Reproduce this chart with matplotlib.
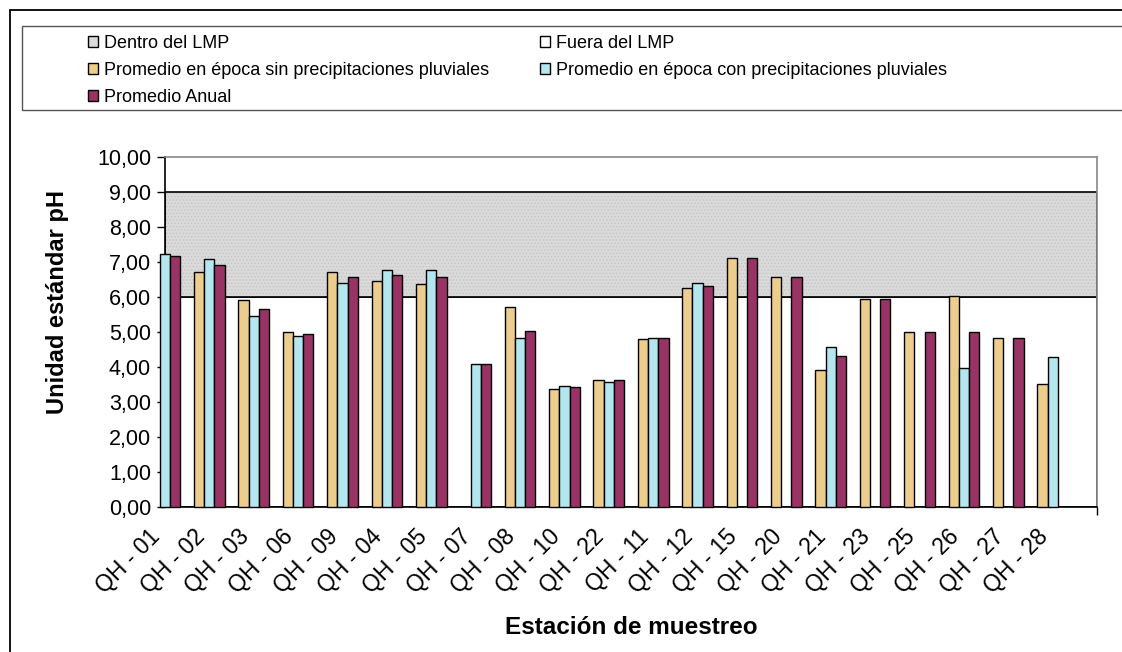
import numpy as np
import matplotlib.pyplot as plt
from matplotlib.patches import Patch, Rectangle

plt.rcParams['font.family'] = ['Liberation Sans', 'DejaVu Sans']
plt.rcParams['hatch.linewidth'] = 0.6

# estaciones de muestreo y promedios de pH
estaciones = ['QH - 01', 'QH - 02', 'QH - 03', 'QH - 06', 'QH - 09', 'QH - 04', 'QH - 05',
              'QH - 07', 'QH - 08', 'QH - 10', 'QH - 22', 'QH - 11', 'QH - 12', 'QH - 15',
              'QH - 20', 'QH - 21', 'QH - 23', 'QH - 25', 'QH - 26', 'QH - 27', 'QH - 28']
sin_lluvia = [np.nan, 6.71, 5.90, 4.98, 6.71, 6.46, 6.35, np.nan, 5.71, 3.36, 3.62, 4.78,
              6.26, 7.11, 6.56, 3.92, 5.94, 4.98, 6.01, 4.82, 3.51]
con_lluvia = [7.22, 7.08, 5.45, 4.88, 6.40, 6.76, 6.76, 4.08, 4.83, 3.46, 3.57, 4.83,
              6.40, np.nan, np.nan, 4.57, np.nan, np.nan, 3.96, np.nan, 4.27]
anual = [7.17, 6.91, 5.65, 4.93, 6.56, 6.62, 6.56, 4.08, 5.03, 3.41, 3.62, 4.83,
         6.31, 7.11, 6.56, 4.32, 5.94, 4.98, 4.98, 4.82, np.nan]

# limites maximos permisibles
lmp_min = 6.0
lmp_max = 9.0

c_sin = '#EDCD8D'
c_con = '#B3E6EE'
c_anual = '#993366'
c_lmp = '#DADADA'

fig = plt.figure(figsize=(11.22, 6.52), dpi=100)
ax = fig.add_axes([165 / 1122, 1 - 506.7 / 652, (1097 - 165) / 1122, 350 / 652])

# marco exterior del grafico y recuadro de la leyenda
fig.patches.append(Rectangle((10 / 1122, -0.05), 1.2, 1 - 10 / 652 + 0.05,
                             transform=fig.transFigure, fill=False,
                             edgecolor='black', linewidth=1.3))
fig.patches.append(Rectangle((22 / 1122, 1 - 110 / 652), 1.2, 84 / 652,
                             transform=fig.transFigure, fill=False,
                             edgecolor='#555555', linewidth=1.0))

x = np.arange(len(estaciones))
n = len(estaciones)

# franjas del LMP
ax.add_patch(Rectangle((0, 0), n, lmp_min, facecolor='white', edgecolor='black',
                       linewidth=1.2, zorder=1))
ax.add_patch(Rectangle((0, lmp_min), n, lmp_max - lmp_min, facecolor=c_lmp,
                       edgecolor='#C4C4C4', hatch='.....', linewidth=0, zorder=1))
ax.add_patch(Rectangle((0, lmp_min), n, lmp_max - lmp_min, fill=False,
                       edgecolor='black', linewidth=1.2, zorder=1.5))

w = 0.23
ax.bar(x - w, sin_lluvia, w, color=c_sin, edgecolor='black', linewidth=1, zorder=3,
       clip_on=False)
ax.bar(x, con_lluvia, w, color=c_con, edgecolor='black', linewidth=1, zorder=3,
       clip_on=False)
ax.bar(x + w, anual, w, color=c_anual, edgecolor='black', linewidth=1, zorder=3,
       clip_on=False)

ax.set_xlim(0, n)
ax.set_ylim(0, 10)
ax.set_yticks(np.arange(0, 11, 1))
ax.set_yticklabels([f'{v:.2f}'.replace('.', ',') for v in range(0, 11)], fontsize=15.5)
ax.set_xticks(x)
ax.set_xticklabels(estaciones, rotation=45, ha='right', va='bottom',
                   rotation_mode='anchor', fontsize=16.5)
ax.set_xticks(np.arange(0, n + 1), minor=True)
ax.tick_params(axis='x', which='major', length=0, pad=25)
ax.tick_params(axis='x', which='minor', length=6, width=1, direction='out')
ax.tick_params(axis='y', length=6, width=1, direction='out', pad=4)

for s in ['top', 'right']:
    ax.spines[s].set_color('#888888')
    ax.spines[s].set_linewidth(1.2)
ax.spines['left'].set_linewidth(1.2)
ax.spines['bottom'].set_linewidth(1.2)

ax.set_ylabel('Unidad estándar pH', fontsize=17, fontweight='bold')
ax.yaxis.set_label_coords(-96 / 932, (506.7 - 302) / 350)
ax.set_xlabel('Estación de muestreo', fontsize=17.5, fontweight='bold', labelpad=13)

# leyenda en dos columnas
h_dentro = Patch(facecolor=c_lmp, edgecolor='black', label='Dentro del LMP')
h_fuera = Patch(facecolor='white', edgecolor='black', label='Fuera del LMP')
h_sin = Patch(facecolor=c_sin, edgecolor='black',
              label='Promedio en época sin precipitaciones pluviales')
h_con = Patch(facecolor=c_con, edgecolor='black',
              label='Promedio en época con precipitaciones pluviales')
h_anual = Patch(facecolor=c_anual, edgecolor='black', label='Promedio Anual')

kw = dict(frameon=False, fontsize=13, handlelength=0.55, handleheight=0.55,
          handletextpad=0.35, labelspacing=0.55, borderpad=0, borderaxespad=0,
          loc='upper left', bbox_transform=fig.transFigure)
leg1 = fig.legend(handles=[h_dentro, h_sin, h_anual], bbox_to_anchor=(88 / 1122, 1 - 35 / 652), **kw)
leg2 = fig.legend(handles=[h_fuera, h_con], bbox_to_anchor=(540 / 1122, 1 - 35 / 652), **kw)

fig.savefig('out.png', dpi=100)
